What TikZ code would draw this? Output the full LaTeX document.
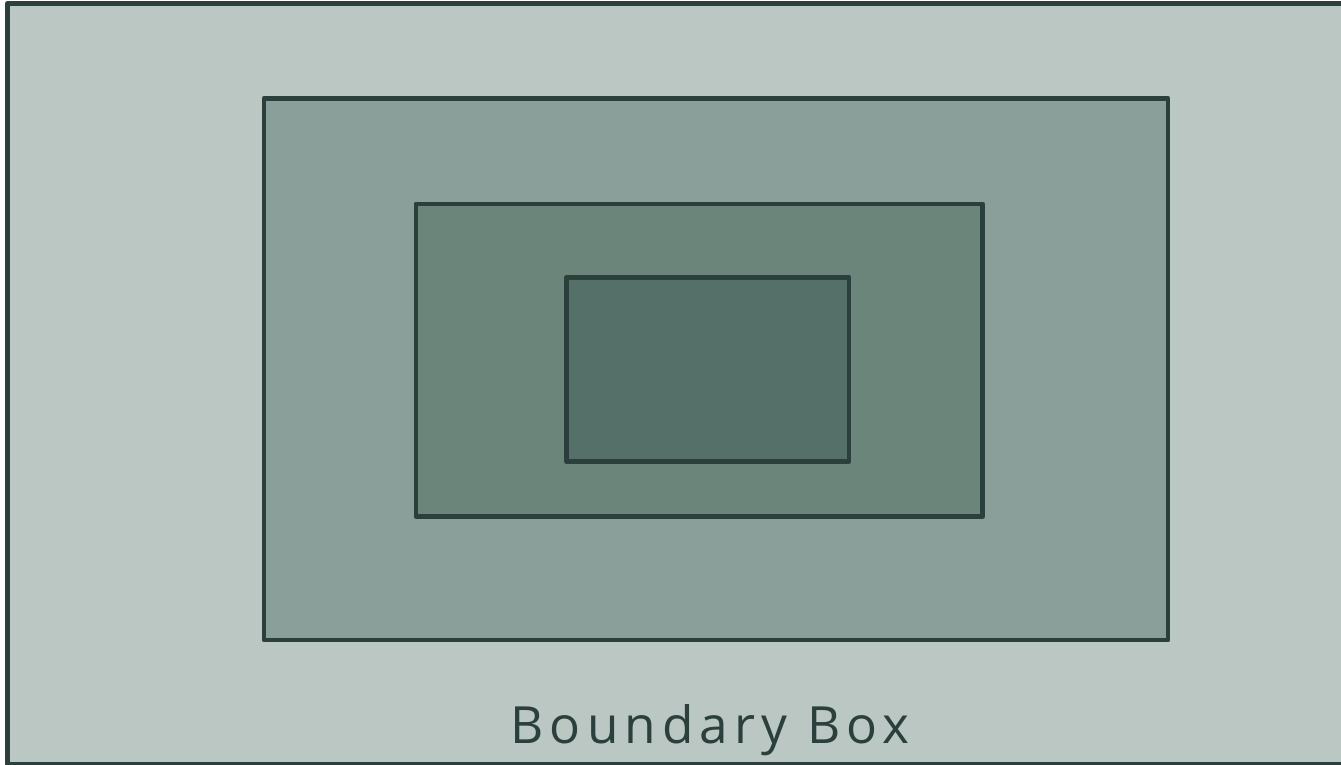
\documentclass[tikz,border=0pt]{standalone}
\usepackage{fontspec}
\setmainfont{Open Sans}
\usepackage{tikz}
\usetikzlibrary{positioning}
\definecolor{edge}{HTML}{2B403D}
\definecolor{layerA}{HTML}{BAC7C2}
\definecolor{layerB}{HTML}{8A9F99}
\definecolor{layerC}{HTML}{6B857B}
\definecolor{layerD}{HTML}{557068}

\begin{document}
\begin{tikzpicture}[
  layer/.style={
    draw=edge, line width=1.4pt, line join=round,
    rectangle, inner sep=0pt, outer sep=0pt, anchor=north west
  },
  lab/.style={font=\fontsize{14.6}{17}\selectfont\addfontfeatures{LetterSpace=12},
    text=edge, inner sep=0pt}
]
  \useasboundingbox (0,0) rectangle (13.41,-7.65);

  % Nested layers, outermost first
  \node[layer, fill=layerA, minimum width=13.36cm, minimum height=7.605cm]
    (boundary) at (0.075,-0.035) {};
  \node[layer, fill=layerB, minimum width=9.04cm, minimum height=5.415cm]
    (outer) at (2.64,-0.985) {};
  \node[layer, fill=layerC, minimum width=5.665cm, minimum height=3.125cm]
    (middle) at (4.16,-2.04) {};
  \node[layer, fill=layerD, minimum width=2.825cm, minimum height=1.84cm]
    (inner) at (5.665,-2.775) {};

  % Caption of the outer box
  \node[lab, anchor=base] (caption) at (7.1,-7.43) {Boundary Box};
\end{tikzpicture}
\end{document}
